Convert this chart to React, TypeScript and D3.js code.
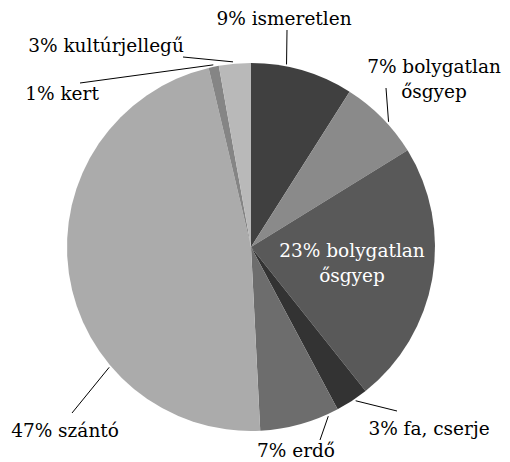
import * as d3 from "d3";

// slices clockwise from 12 o'clock
const categories = [
  "ismeretlen",
  "bolygatlan ősgyep",
  "bolygatlan ősgyep",
  "fa, cserje",
  "erdő",
  "szántó",
  "kert",
  "kultúrjellegű",
];
const shares = [9.0, 7.2, 23.1, 2.9, 7.0, 47.1, 0.9, 2.8];
const percentLabels = ["9%", "7%", "23%", "3%", "7%", "47%", "1%", "3%"];
const grays = ["#404040", "#8a8a8a", "#595959", "#333333", "#6d6d6d", "#ababab", "#858585", "#b9b9b9"];

const W = 510;
const H = 462;
const cx = 251;
const cy = 247;
const radius = 184;

// label layout, relative to pie center: where leader touches the slice (t along slice),
// leader end, text position, text lines
type LabelLayout = {
  t: number | null;
  end: [number, number];
  text: [number, number];
  anchor: "start" | "middle" | "end";
  lines: string[];
  inside?: boolean;
};
const layout: LabelLayout[] = [
  { t: 0.34, end: [36, -217], text: [33, -222], anchor: "middle", lines: ["9% ismeretlen"] },
  { t: 0.59, end: [135, -159], text: [183, -174], anchor: "middle", lines: ["7% bolygatlan", "ősgyep"] },
  { t: null, end: [0, 0], text: [101, 10], anchor: "middle", lines: ["23% bolygatlan", "ősgyep"], inside: true },
  { t: 0.41, end: [146, 164], text: [178, 188], anchor: "middle", lines: ["3% fa, cserje"] },
  { t: 0.14, end: [69, 193], text: [45, 210], anchor: "middle", lines: ["7% erdő"] },
  { t: 0.31, end: [-179, 166], text: [-186, 190], anchor: "middle", lines: ["47% szántó"] },
  { t: 0.5, end: [-171, -164], text: [-189, -147], anchor: "middle", lines: ["1% kert"] },
  { t: 0.45, end: [-68, -190], text: [-145, -195], anchor: "middle", lines: ["3% kultúrjellegű"] },
];

export default function App() {
  const pie = d3
    .pie<number>()
    .sort(null)
    .value((d) => d)
    .startAngle(0)
    .endAngle(2 * Math.PI);
  const arcs = pie(shares);
  const arc = d3.arc<d3.PieArcDatum<number>>().innerRadius(0).outerRadius(radius);

  const lineH = 25;

  return (
    <svg width={W} height={H} style={{ position: "absolute", left: 0, top: 0 }}>
      <g transform={`translate(${cx},${cy})`}>
        {arcs.map((a, i) => (
          <path key={i} d={arc(a) || ""} fill={grays[i]} />
        ))}
        {arcs.map((a, i) => {
          const l = layout[i];
          const text = l.lines;
          const fill = l.inside ? "#ffffff" : "#000000";
          let leader = null;
          if (l.t !== null) {
            const ang = a.startAngle + l.t * (a.endAngle - a.startAngle);
            const r0 = radius + 2;
            const x0 = r0 * Math.sin(ang);
            const y0 = -r0 * Math.cos(ang);
            leader = (
              <line x1={x0} y1={y0} x2={l.end[0]} y2={l.end[1]} stroke="#000" strokeWidth={1} />
            );
          }
          return (
            <g key={`l${i}`}>
              {leader}
              <text
                x={l.text[0]}
                y={l.text[1]}
                textAnchor={l.anchor}
                fill={fill}
                fontFamily="'DejaVu Serif', serif"
                fontSize={18.5}
                data-category={categories[i]}
                data-pct={percentLabels[i]}
              >
                {text.map((s, k) => (
                  <tspan key={k} x={l.text[0]} dy={k === 0 ? 0 : lineH}>
                    {s}
                  </tspan>
                ))}
              </text>
            </g>
          );
        })}
      </g>
    </svg>
  );
}
